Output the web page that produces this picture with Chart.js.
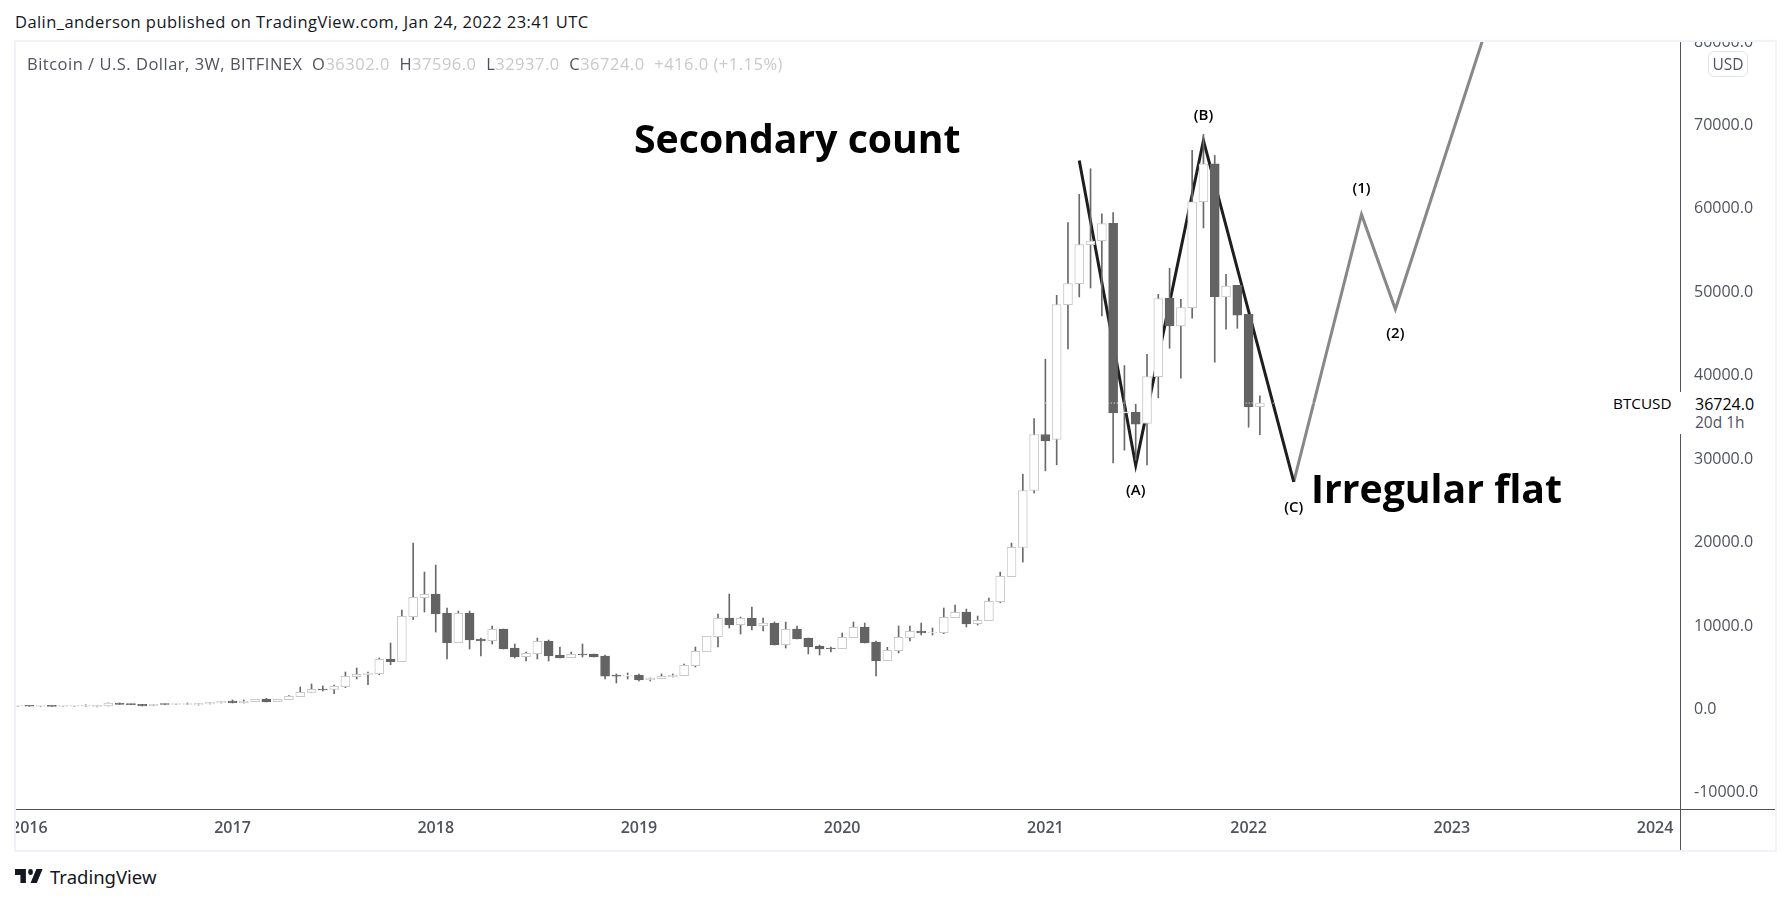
<!DOCTYPE html>
<html><head><meta charset="utf-8">
<script src="https://cdn.jsdelivr.net/npm/chart.js@4"></script>
<style>
html,body{margin:0;padding:0;background:#fff;width:1791px;height:904px;overflow:hidden}
body{font-family:"Open Sans",sans-serif;color:#131722}
.abs{position:absolute;white-space:nowrap;line-height:1}
#pane{position:absolute;left:14px;top:40px;width:1759px;height:808px;border:2px solid #f0f3fa;overflow:hidden}
canvas{display:block}
.g{color:#c9c9c9}.d{color:#50535e}
</style></head><body>
<div class="abs" style="left:15px;top:14px;font-size:16.5px;letter-spacing:.43px;color:#131722">Dalin_anderson published on TradingView.com, Jan 24, 2022 23:41 UTC</div>
<div id="pane"><canvas id="c" width="1759" height="808"></canvas></div>
<div class="abs d" style="left:27px;top:56px;font-size:16.5px;letter-spacing:.5px">Bitcoin / U.S. Dollar, 3W, BITFINEX&nbsp; O<span class="g">36302.0</span>&nbsp; H<span class="g">37596.0</span>&nbsp; L<span class="g">32937.0</span>&nbsp; C<span class="g">36724.0</span>&nbsp; <span class="g">+416.0 (+1.15%)</span></div>
<div class="abs" style="left:634px;top:118px;font-size:39.2px;font-weight:700;color:#000">Secondary count</div>
<div class="abs" style="left:1311px;top:468px;font-size:39.2px;font-weight:700;color:#000">Irregular flat</div>
<div class="abs d" style="left:1708px;top:51px;width:38px;height:24px;border:1px solid #e0e3eb;border-radius:6px;background:#fff;font-size:15.5px;line-height:24px;text-align:center">USD</div>
<div class="abs" style="left:1600px;top:392px;width:175px;height:42px;background:#fff"></div>
<div class="abs" style="left:1613px;top:396px;font-size:15.3px;color:#000">BTCUSD</div>
<div class="abs" style="left:1695px;top:396px;font-size:16px;color:#000">36724.0</div>
<div class="abs d" style="left:1695px;top:415px;font-size:15.5px">20d 1h</div>
<svg class="abs" style="left:15px;top:869px" width="28" height="14" viewBox="0 6 36 14" preserveAspectRatio="none"><path d="M14 6H0v6h7v8h7V6Z M28 20h-8l7.5-14h8L28 20Z" fill="#131722"/><ellipse cx="20" cy="9" rx="3" ry="3" fill="#131722"/></svg>
<div class="abs" style="left:50px;top:868px;font-size:18.5px;color:#131722;font-family:'Noto Sans'">TradingView</div>
<script>
const opens = [380,420,380,420,375,380,385,300,420,780,
650,620,440,660,590,600,530,659,778,1018,
778,938,1257,938,1177,1537,2056,2415,2415,2734,
3932,4171,4291,6008,5728,11118,13393,13833,11557,8003,
11557,8443,8243,9640,7365,6327,6687,8203,6527,6207,
6647,6647,6407,4132,3996,4132,3533,3692,3892,4052,
5250,6927,8723,10958,10160,10958,10040,10359,7764,9640,
8563,7605,7365,7285,8603,9880,8084,5848,7045,8603,
9401,9161,9201,10998,11677,10280,10639,12914,15908,19421,
26247,32954,32355,48522,51037,55709,56187,58262,35548,35628,
34271,39899,49280,45968,48163,60858,65409,49440,50837,47365,36302];
const closes = [420,380,420,375,410,415,420,500,780,600,
580,420,620,590,660,670,740,859,978,778,
1018,1218,898,1218,1577,2056,2415,2335,2775,3972,
4212,4371,6008,5729,11158,13433,13793,11437,7964,11518,
8323,8203,9601,7245,6287,6727,8164,6407,6168,6607,
6527,6287,3996,3996,4132,3533,3773,3971,4132,5290,
6966,8763,10918,10120,10918,10000,10359,7724,9601,8443,
7485,7245,7245,8643,9840,7964,5808,7086,8643,9361,
9161,9281,11038,11637,10240,10679,12954,15948,19421,26247,
32954,32195,48522,51037,55709,56147,58222,35548,35628,34191,
39899,49240,45968,48163,60858,65409,49440,50757,47245,36265,36724];
const highs = [420,420,420,420,410,415,560,500,780,780,
650,620,620,660,660,778,740,859,978,1138,
1138,1218,1330,1218,1677,2695,3054,2814,2934,4491,
4970,4491,6168,7964,11916,19941,16467,17305,12156,11796,
11796,8563,10000,9640,7844,6886,8563,8323,7485,6886,
7844,6647,6527,4252,4372,4252,3773,4252,4252,5449,
7485,8763,11437,13833,11078,12276,10958,10479,10479,10000,
8563,7724,7485,9161,10479,10359,8203,7445,10000,10000,
10359,9760,12156,12515,12036,11197,13354,16467,19940,28203,
34870,41976,49640,58342,61736,64810,59420,59540,41217,36586,
42574,49760,52873,49161,67006,68922,66407,52155,50837,47365,37596];
const lows = [380,380,380,375,375,380,385,300,420,600,
580,420,440,590,590,600,530,659,778,778,
778,938,898,938,1177,1537,2056,2215,1896,2614,
3653,2974,4172,5369,5728,10758,11676,9281,6048,8003,
7245,6407,7844,7245,6168,5808,6048,5808,6168,6207,
6287,6287,3653,3174,3653,3413,3413,3692,3892,4052,
5090,6927,7485,9760,9042,9521,9401,7724,7365,8443,
6647,6527,6886,7285,8603,7964,4012,5848,6767,8203,
8922,8922,9082,10998,9880,10120,10639,12794,15908,17664,
25968,28602,29321,43213,49440,50518,47165,29560,31077,29880,
29321,37345,43293,39700,46885,57704,41617,45568,45688,33832,32937];
const yearLabels = ['2016','2017','2018','2019','2020','2021','2022','2023','2024'];
const yearBars = [1,19,37,55,73,91,109,127,145];
const priceTicks = [-10000,0,10000,20000,30000,40000,50000,60000,70000,80000];
const waveBars = [94,99,105,113];
const waveValues = [65800,29280,68200,27280];
const projectionBars = [113,119,122,130];
const projectionValues = [27280,59340,47960,81370];
const labelTexts = ['(A)','(B)','(C)','(1)','(2)'];
const labelBars = [99,105,113,119,122];
const labelValues = [29280,68200,27280,59340,47960];
const labelOffsets = [26,-25,26,-26,24];
const lastClose = 36724;

const xy = (xs,ys)=>xs.map((x,i)=>({x,y:ys[i]}));
const UP_EDGE='#c9c9c9', DOWN='#636363', WICK='#6a6a6a';
const isUp = i=>closes[i]>=opens[i];

const annotate = {
  id:'annotate',
  afterDatasetsDraw(chart){
    const {ctx,chartArea:a,scales:{x,y}} = chart;
    ctx.save();
    ctx.fillStyle='#50535e';
    ctx.fillRect(0,a.bottom,chart.width,1);
    ctx.fillRect(a.right,0,1,chart.height);
    ctx.fillStyle='#000';
    ctx.font='600 15px "Open Sans"';
    ctx.textAlign='center';ctx.textBaseline='middle';
    labelTexts.forEach((t,i)=>ctx.fillText(t,x.getPixelForValue(labelBars[i]),y.getPixelForValue(labelValues[i])+labelOffsets[i]));
    ctx.restore();
  }
};

new Chart(document.getElementById('c'),{
  type:'bar',
  data:{datasets:[
    {type:'line',label:'Wave',data:xy(waveBars,waveValues),borderColor:'#1e1e1e',borderWidth:3,pointRadius:0,tension:0,order:4},
    {type:'line',label:'Projection',data:xy(projectionBars,projectionValues),borderColor:'#888888',borderWidth:3,pointRadius:0,tension:0,order:4},
    {type:'bar',label:'Range',data:lows.map((l,i)=>({x:i,y:[l,highs[i]]})),backgroundColor:WICK,borderWidth:0,barThickness:1,grouped:false,order:3},
    {type:'bar',label:'Body',data:opens.map((o,i)=>({x:i,y:[o,closes[i]]})),
      backgroundColor:c=>isUp(c.dataIndex)?'#ffffff':DOWN,
      borderColor:c=>isUp(c.dataIndex)?UP_EDGE:DOWN,
      borderWidth:1,borderSkipped:false,barThickness:9,minBarLength:1,grouped:false,order:2},
    {type:'line',label:'Last',data:xy([-1,148],[lastClose,lastClose]),borderColor:'#ffffff',borderWidth:1,borderDash:[1,2],pointRadius:0,order:1}
  ]},
  options:{
    responsive:false,animation:false,devicePixelRatio:1,
    layout:{padding:0},
    plugins:{legend:{display:false},tooltip:{enabled:false}},
    scales:{
      x:{type:'linear',position:'bottom',min:-0.177,max:147.21,offset:false,
        grid:{display:false,drawTicks:false},border:{display:false},
        ticks:{autoSkip:false,maxRotation:0,padding:10,color:'#50535e',font:{family:'Open Sans',size:16,weight:'600'},
          callback:v=>yearLabels[yearBars.indexOf(v)]},
        afterBuildTicks:s=>{s.ticks=yearBars.map(v=>({value:v}))},
        afterFit:s=>{s.paddingLeft=0;s.paddingRight=0;s.height=41}},
      y:{type:'linear',position:'right',min:-11930,max:80000,
        grid:{display:false,drawTicks:false},border:{display:false},
        ticks:{autoSkip:false,padding:14,crossAlign:'near',color:'#50535e',font:{family:'Open Sans',size:16},
          callback:v=>v.toFixed(1)},
        afterBuildTicks:s=>{s.ticks=priceTicks.map(v=>({value:v}))},
        afterFit:s=>{s.paddingTop=0;s.paddingBottom=0;s.width=95}}
    }
  },
  plugins:[annotate]
});
</script>
</body></html>
